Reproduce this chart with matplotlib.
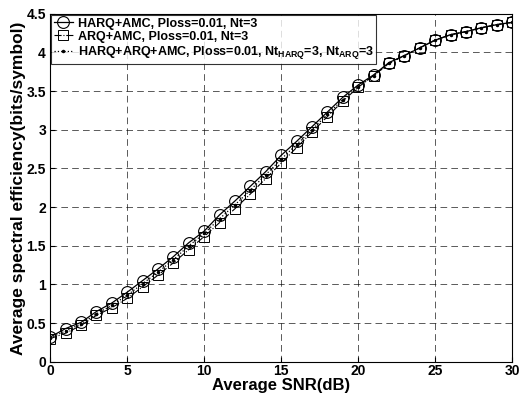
import numpy as np
import matplotlib
matplotlib.use("Agg")
import matplotlib.pyplot as plt

plt.rcParams['font.family'] = ['Liberation Sans', 'DejaVu Sans']
plt.rcParams['font.weight'] = 'bold'
plt.rcParams['mathtext.fontset'] = 'custom'
plt.rcParams['mathtext.rm'] = 'Liberation Sans:bold'
plt.rcParams['mathtext.bf'] = 'Liberation Sans:bold'

# 数据
snr_db = list(range(0, 31))
harq_amc = [0.32, 0.43, 0.51, 0.65, 0.76, 0.90, 1.05, 1.20, 1.36, 1.54,
            1.69, 1.90, 2.08, 2.27, 2.46, 2.67, 2.85, 3.04, 3.23, 3.42,
            3.58, 3.71, 3.87, 3.96, 4.06, 4.16, 4.23, 4.27, 4.32, 4.36, 4.39]
arq_amc = [0.30, 0.37, 0.47, 0.60, 0.70, 0.82, 0.97, 1.12, 1.28, 1.45,
           1.62, 1.80, 1.98, 2.17, 2.37, 2.57, 2.77, 2.97, 3.17, 3.37,
           3.55, 3.70, 3.86, 3.96, 4.06, 4.16, 4.23, 4.27, 4.32, 4.36, 4.39]
harq_arq_amc = [0.31, 0.40, 0.49, 0.62, 0.73, 0.86, 1.01, 1.16, 1.32, 1.50,
                1.66, 1.85, 2.03, 2.22, 2.42, 2.62, 2.81, 3.00, 3.20, 3.39,
                3.56, 3.70, 3.86, 3.96, 4.06, 4.16, 4.23, 4.27, 4.32, 4.36, 4.39]

labels = ['HARQ+AMC, Ploss=0.01, Nt=3',
          'ARQ+AMC, Ploss=0.01, Nt=3',
          r'HARQ+ARQ+AMC, Ploss=0.01, Nt$_{\mathrm{HARQ}}$=3, Nt$_{\mathrm{ARQ}}$=3']
x_ticks = [0, 5, 10, 15, 20, 25, 30]
y_ticks = [0, 0.5, 1, 1.5, 2, 2.5, 3, 3.5, 4, 4.5]
y_tick_labels = ['0', '0.5', '1', '1.5', '2', '2.5', '3', '3.5', '4', '4.5']

fig = plt.figure(figsize=(5.28, 3.95), dpi=100)
ax = fig.add_axes([0.095, 0.084, 0.875, 0.881])

ax.plot(snr_db, harq_amc, 'k-', marker='o', markersize=8.5, markerfacecolor='none',
        markeredgewidth=0.8, linewidth=0.9, label=labels[0])
ax.plot(snr_db, arq_amc, 'k-.', marker='s', markersize=7, markerfacecolor='none',
        markeredgewidth=0.7, linewidth=0.8, label=labels[1])
ax.plot(snr_db, harq_arq_amc, 'k:', marker='.', markersize=3,
        linewidth=0.9, label=labels[2])

ax.set_xlim(0, 30)
ax.set_ylim(0, 4.5)
ax.set_xticks(x_ticks)
ax.set_yticks(y_ticks)
ax.set_yticklabels(y_tick_labels)
ax.tick_params(direction='in', labelsize=10)
ax.tick_params(axis='x', pad=1.5)
ax.tick_params(axis='y', pad=3)
for lab in ax.get_xticklabels() + ax.get_yticklabels():
    lab.set_fontweight('bold')
ax.grid(True, color='black', linestyle=(0, (8, 5)), linewidth=0.6, alpha=0.75)

ax.set_xlabel('Average SNR(dB)', fontsize=12, fontweight='bold', labelpad=0)
ax.set_ylabel('Average spectral efficiency(bits/symbol)', fontsize=12.5,
              fontweight='bold', labelpad=0)

leg = ax.legend(loc='upper left', fontsize=9, frameon=True, fancybox=False,
                edgecolor='black', borderpad=0.2, labelspacing=0.1,
                handlelength=1.5, handletextpad=0.4, borderaxespad=0.1)
leg.get_frame().set_linewidth(0.8)

fig.savefig('out.png', dpi=100)
